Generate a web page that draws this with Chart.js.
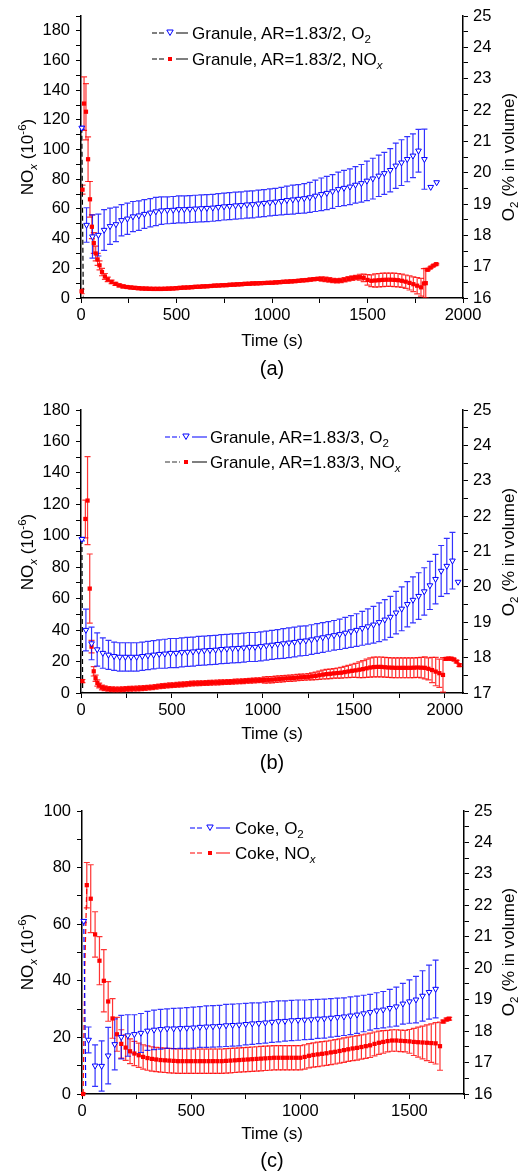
<!DOCTYPE html>
<html>
<head>
<meta charset="utf-8">
<script src="https://cdn.jsdelivr.net/npm/chart.js@4.4.1/dist/chart.umd.min.js"></script>
<style>
body{margin:0;background:#fff;width:532px;height:1175px;position:relative;overflow:hidden;font-family:"Liberation Sans",Arial,sans-serif;color:#000}
.panel{position:absolute;left:0;width:532px}
.txt{position:absolute;white-space:nowrap;font-size:17px;line-height:1;transform:translate(-50%,-50%)}
.rot{transform:translate(-50%,-50%) rotate(-90deg)}
.cap{font-size:20px}
.leg{position:absolute;white-space:nowrap;font-size:17px;line-height:1;transform:translateY(-50%);display:flex;align-items:center}
sub,sup{font-size:0.68em;line-height:0}
</style>
</head>
<body>

<div class="panel" style="top:0px"><canvas id="chartA" width="532" height="331"></canvas></div>
<div class="panel" style="top:394px"><canvas id="chartB" width="532" height="332"></canvas></div>
<div class="panel" style="top:795px"><canvas id="chartC" width="532" height="332"></canvas></div>

<!-- axis titles and captions -->
<div class="txt rot" style="left:27px;top:157px">NO<sub><i>x</i></sub> (10<sup>-6</sup>)</div>
<div class="txt rot" style="left:508px;top:157px">O<sub>2</sub> (% in volume)</div>
<div class="txt" style="left:272px;top:340px">Time (s)</div>
<div class="txt cap" style="left:272px;top:368px">(a)</div>

<div class="txt rot" style="left:27px;top:552px">NO<sub><i>x</i></sub> (10<sup>-6</sup>)</div>
<div class="txt rot" style="left:508px;top:552px">O<sub>2</sub> (% in volume)</div>
<div class="txt" style="left:272px;top:733px">Time (s)</div>
<div class="txt cap" style="left:272px;top:762px">(b)</div>

<div class="txt rot" style="left:27px;top:952px">NO<sub><i>x</i></sub> (10<sup>-6</sup>)</div>
<div class="txt rot" style="left:508px;top:952px">O<sub>2</sub> (% in volume)</div>
<div class="txt" style="left:272px;top:1133px">Time (s)</div>
<div class="txt cap" style="left:272px;top:1160px">(c)</div>

<script>
// rows are [time (s), value, error]

// (a) Granule, AR=1.83/2
const o2A = [[4,21.43,0.05],[29,18.33,0.55],[60,17.96,0.69],[91,18.01,0.67],[121,18.17,0.65],[152,18.29,0.58],[183,18.35,0.55],[212,18.48,0.50],[243,18.53,0.50],[272,18.60,0.48],[303,18.63,0.47],[332,18.68,0.46],[363,18.72,0.45],[392,18.76,0.45],[421,18.79,0.44],[452,18.80,0.43],[483,18.81,0.43],[512,18.83,0.43],[541,18.83,0.43],[570,18.84,0.43],[599,18.85,0.43],[630,18.86,0.43],[659,18.87,0.43],[690,18.88,0.43],[719,18.90,0.43],[749,18.92,0.43],[778,18.93,0.43],[809,18.95,0.43],[838,18.96,0.43],[869,18.98,0.43],[898,18.99,0.43],[929,19.01,0.43],[958,19.03,0.43],[989,19.05,0.43],[1018,19.07,0.43],[1049,19.09,0.44],[1078,19.12,0.45],[1109,19.14,0.46],[1138,19.16,0.46],[1169,19.18,0.47],[1198,19.21,0.48],[1227,19.26,0.50],[1258,19.31,0.52],[1287,19.35,0.53],[1317,19.40,0.54],[1347,19.47,0.55],[1377,19.51,0.56],[1408,19.55,0.57],[1437,19.61,0.58],[1468,19.66,0.60],[1497,19.74,0.63],[1528,19.81,0.65],[1559,19.90,0.66],[1588,19.98,0.67],[1619,20.08,0.69],[1648,20.22,0.72],[1678,20.32,0.73],[1708,20.43,0.72],[1738,20.54,0.70],[1767,20.70,0.68],[1798,20.43,0.96],[1831,19.54,0],[1862,19.69,0]];

const noxA = [[3,4.5,1.5],[8,73,3],[16,131,18],[26,125.5,19],[37,93.5,15],[47,66.5,12],[57,48,8],[67,37,7],[77,30,5],[87,26,4],[97,22,3],[110,17.5,2.5],[125,14.5,2],[140,12.5,1.5],[160,10.8,1.2],[180,9.5,1],[200,8.5,1],[220,7.8,1],[240,7.4,1],[260,7.1,1],[280,6.8,1],[300,6.6,1],[320,6.4,1],[340,6.3,1],[360,6.2,1],[380,6.1,1],[400,6.1,1],[420,6.1,1],[440,6.2,1],[460,6.3,1],[480,6.4,1],[500,6.6,1],[520,6.8,1],[540,7.0,1],[560,7.1,1],[580,7.3,1],[600,7.5,1],[620,7.6,1],[640,7.8,1],[660,7.9,1],[680,8.1,1],[700,8.3,1],[720,8.4,1],[740,8.6,1],[760,8.7,1],[780,8.9,1],[800,9.0,1],[820,9.2,1],[840,9.3,1],[860,9.5,1],[880,9.6,1],[900,9.8,1],[920,9.9,1],[940,10.0,1],[960,10.1,1],[980,10.2,1],[1000,10.3,1],[1020,10.5,1],[1040,10.7,1],[1060,10.9,1],[1080,11.0,1],[1100,11.2,1],[1120,11.4,1],[1140,11.6,1],[1160,11.9,1],[1180,12.1,1],[1200,12.4,1],[1220,12.7,1],[1240,12.9,1],[1260,12.8,1.5],[1280,12.5,1.5],[1300,12.2,1.5],[1320,11.8,1.5],[1340,11.6,1.5],[1360,11.8,1.5],[1380,12.3,1.5],[1400,12.9,1.5],[1420,13.4,1.5],[1440,13.8,1.5],[1460,14.0,2],[1480,13.6,2.5],[1500,12.2,3.5],[1520,11.6,4],[1540,11.8,4.5],[1560,12.0,4.5],[1580,12.2,4.5],[1600,12.3,4.5],[1620,12.3,4.5],[1640,12.2,4.5],[1660,12.0,4.5],[1680,11.6,4.5],[1700,11.0,4.5],[1720,10.2,4.8],[1740,9.3,5],[1760,8.3,5.5],[1780,7.2,6],[1795,9.8,10],[1805,10.0,10],[1815,19.0,0.5],[1830,20.5,0.5],[1845,21.8,0.5],[1860,22.8,0.5]];

const dashA = [[4,21.43],[12,16.05]];

// (b) Granule, AR=1.83/3
const o2B = [[5,21.35,0.05],[27,18.78,0.59],[58,18.40,0.46],[89,18.23,0.47],[120,18.13,0.43],[151,18.08,0.41],[182,18.04,0.40],[213,18.02,0.40],[244,18.02,0.40],[275,18.02,0.40],[306,18.02,0.40],[337,18.04,0.40],[368,18.06,0.40],[399,18.08,0.40],[430,18.10,0.40],[461,18.11,0.41],[492,18.13,0.41],[523,18.13,0.41],[554,18.15,0.41],[585,18.16,0.41],[616,18.17,0.41],[647,18.19,0.41],[678,18.20,0.41],[709,18.21,0.41],[740,18.22,0.41],[771,18.24,0.41],[802,18.25,0.41],[833,18.26,0.41],[864,18.27,0.41],[895,18.28,0.41],[926,18.30,0.41],[957,18.30,0.41],[988,18.32,0.41],[1019,18.34,0.41],[1050,18.36,0.41],[1081,18.38,0.41],[1112,18.40,0.42],[1143,18.42,0.42],[1174,18.44,0.42],[1205,18.47,0.42],[1236,18.48,0.42],[1267,18.51,0.42],[1298,18.54,0.42],[1329,18.57,0.42],[1360,18.60,0.42],[1391,18.63,0.42],[1422,18.66,0.43],[1453,18.70,0.44],[1484,18.74,0.45],[1515,18.78,0.46],[1546,18.83,0.48],[1577,18.88,0.50],[1608,18.93,0.52],[1639,19.00,0.55],[1670,19.07,0.57],[1701,19.15,0.58],[1732,19.27,0.60],[1763,19.38,0.62],[1794,19.51,0.64],[1825,19.63,0.65],[1856,19.74,0.66],[1887,19.87,0.67],[1918,20.04,0.68],[1949,20.22,0.70],[1980,20.45,0.72],[2011,20.59,0.78],[2042,20.74,0.80],[2073,20.14,0]];

const noxB = [[8,7.6,1],[24,110.7,12],[36,122.4,28],[48,66.4,22],[58,29.5,4],[70,13.8,3],[80,9.4,2],[90,6.4,2],[100,4.8,1.5],[115,3.5,1.5],[130,3.0,1.5],[150,2.6,1.5],[170,2.4,1.5],[190,2.3,1.5],[210,2.3,1.5],[230,2.4,1.5],[250,2.6,1.5],[270,2.7,1.5],[290,2.8,1.5],[310,2.9,1.5],[330,3.0,1.5],[350,3.2,1.5],[370,3.4,1.5],[390,3.6,1.5],[410,3.9,1.5],[430,4.2,1.5],[450,4.5,1.5],[470,4.7,1.5],[490,4.9,1.5],[510,5.0,1.5],[530,5.2,1.5],[550,5.4,1.5],[570,5.6,1.5],[590,5.8,1.5],[610,6.0,1.5],[630,6.1,1.5],[650,6.2,1.5],[670,6.3,1.5],[690,6.4,1.5],[710,6.5,1.5],[730,6.6,1.5],[750,6.7,1.5],[770,6.8,1.5],[790,6.9,1.5],[810,7.0,1.5],[830,7.1,1.5],[850,7.3,1.5],[870,7.4,1.5],[890,7.5,1.5],[910,7.7,1.5],[930,7.8,1.5],[950,8.0,1.5],[970,8.1,1.5],[990,8.2,1.5],[1010,8.3,2],[1030,8.4,2],[1050,8.5,2],[1070,8.7,2],[1090,8.9,2],[1110,9.1,2],[1130,9.3,2],[1150,9.4,2],[1170,9.6,2],[1190,9.8,2],[1210,10.0,2],[1230,10.1,2],[1250,10.3,2],[1270,10.6,2.2],[1290,10.9,2.4],[1310,11.3,2.6],[1330,11.7,2.8],[1350,12.0,3],[1370,12.2,3],[1390,12.5,3],[1410,12.7,3.2],[1430,12.9,3.4],[1450,13.3,3.6],[1470,13.7,3.9],[1490,14.1,4.2],[1510,14.4,4.5],[1530,14.8,5],[1550,15.2,5.4],[1570,15.7,5.8],[1590,16.2,6.1],[1610,16.5,6.3],[1630,16.6,6.3],[1650,16.6,6.3],[1670,16.4,6.3],[1690,16.2,6.3],[1710,16.1,6.3],[1730,16.0,6.3],[1750,16.0,6.3],[1770,16.0,6.3],[1790,16.0,6.3],[1810,16.0,6.3],[1830,16.1,6.3],[1850,16.2,6.3],[1870,16.1,6.5],[1890,16.0,7],[1910,15.4,7],[1930,14.6,8],[1950,13.6,9],[1970,12.6,9],[1990,11.5,11],[2005,21.7,0.8],[2020,21.9,0.8],[2035,21.8,0.8],[2050,21.3,0.8],[2065,20.0,0.8],[2080,17.7,0.8]];

const dashB = [[5,21.35],[9,17.05]];

// (c) Coke
const o2C = [[8,21.5,0.05],[30,17.72,0.41],[60,16.90,0.66],[90,16.89,0.80],[120,17.22,0.90],[150,17.58,0.81],[180,17.81,0.69],[210,17.86,0.66],[240,17.90,0.62],[270,17.94,0.62],[300,18.01,0.62],[330,18.04,0.63],[360,18.06,0.63],[390,18.08,0.63],[420,18.08,0.64],[450,18.09,0.64],[480,18.10,0.65],[510,18.11,0.65],[540,18.13,0.65],[570,18.14,0.66],[600,18.15,0.66],[630,18.16,0.66],[660,18.18,0.67],[690,18.19,0.67],[720,18.20,0.67],[750,18.22,0.66],[780,18.24,0.66],[810,18.25,0.65],[840,18.27,0.65],[870,18.29,0.65],[900,18.31,0.65],[930,18.32,0.64],[960,18.34,0.64],[990,18.35,0.64],[1020,18.36,0.63],[1050,18.37,0.63],[1080,18.39,0.62],[1110,18.40,0.62],[1140,18.42,0.61],[1170,18.44,0.61],[1200,18.46,0.60],[1230,18.49,0.60],[1260,18.52,0.59],[1290,18.56,0.58],[1320,18.60,0.57],[1350,18.65,0.57],[1380,18.68,0.58],[1410,18.73,0.60],[1440,18.78,0.62],[1470,18.87,0.65],[1500,18.94,0.69],[1530,19.00,0.74],[1560,19.12,0.80],[1590,19.24,0.86],[1620,19.34,0.92]];

const noxC = [[5,0,0.3],[22,73.8,8],[40,69.0,12],[60,56.4,8],[80,47.1,8.5],[100,40.0,11],[120,32.7,7],[140,26.7,7],[160,21.1,6],[180,17.7,5],[200,16.4,4.5],[220,15.1,4.4],[240,14.3,4.3],[260,13.7,4.3],[280,13.1,4.3],[300,12.7,4.3],[320,12.4,4.3],[340,12.2,4.3],[360,12.0,4.3],[380,11.9,4.3],[400,11.8,4.3],[420,11.7,4.3],[440,11.6,4.3],[460,11.6,4.3],[480,11.6,4.3],[500,11.6,4.3],[520,11.6,4.3],[540,11.6,4.3],[560,11.6,4.3],[580,11.6,4.3],[600,11.6,4.3],[620,11.6,4.3],[640,11.6,4.3],[660,11.7,4.3],[680,11.8,4.3],[700,11.9,4.3],[720,12.0,4.3],[740,12.1,4.3],[760,12.2,4.3],[780,12.3,4.3],[800,12.4,4.3],[820,12.5,4.3],[840,12.6,4.3],[860,12.7,4.3],[880,12.8,4.3],[900,12.8,4.3],[920,12.8,4.3],[940,12.8,4.3],[960,12.8,4.3],[980,12.8,4.3],[1000,12.8,4.3],[1020,13.1,4.3],[1040,13.5,4.3],[1060,13.8,4.3],[1080,14.0,4.3],[1100,14.2,4.3],[1120,14.4,4.3],[1140,14.7,4.3],[1160,14.9,4.3],[1180,15.2,4.3],[1200,15.5,4.3],[1220,15.8,4.3],[1240,16.1,4.3],[1260,16.3,4.3],[1280,16.6,4.3],[1300,16.9,4.3],[1320,17.2,4.3],[1340,17.7,4.2],[1360,18.1,4.1],[1380,18.4,4],[1400,18.7,3.8],[1420,18.9,3.8],[1440,18.9,3.8],[1460,18.8,3.8],[1480,18.7,3.8],[1500,18.6,4.2],[1520,18.4,4.8],[1540,18.3,5.3],[1560,18.2,5.8],[1580,18.1,6.3],[1600,18.0,6.8],[1620,17.9,7.3],[1640,16.9,8.5],[1655,25.6,0.5],[1670,26.3,0.5],[1682,26.6,0.5]];

const dashC_O2 = [[8,21.5],[13,18.8],[17,16.2]];
const dashC_NOx = [[5,0],[13,45],[22,73.8]];


Chart.defaults.font.family = '"Liberation Sans", Arial, sans-serif';
Chart.defaults.font.size = 16.5;
Chart.defaults.color = '#000';

// vertical error bars with caps, drawn under the markers
const errorbars = {
  id: 'errorbars',
  beforeDatasetsDraw(chart) {
    const ctx = chart.ctx;
    const area = chart.chartArea;
    ctx.save();
    ctx.beginPath();
    ctx.rect(area.left, area.top - 2, area.right - area.left, area.bottom - area.top + 2);
    ctx.clip();
    for (let i = chart.data.datasets.length - 1; i >= 0; i--) {
      const ds = chart.data.datasets[i];
      if (!ds.errors) continue;
      const meta = chart.getDatasetMeta(i);
      const ys = chart.scales[ds.yAxisID];
      ctx.strokeStyle = ds.errColor;
      ctx.lineWidth = 1.2;
      meta.data.forEach((el, j) => {
        const e = ds.errors[j];
        if (!e) return;
        const v = ds.data[j].y;
        const top = ys.getPixelForValue(v + e);
        const bot = ys.getPixelForValue(v - e);
        ctx.beginPath();
        ctx.moveTo(el.x, top); ctx.lineTo(el.x, bot);
        ctx.moveTo(el.x - 3, top); ctx.lineTo(el.x + 3, top);
        ctx.moveTo(el.x - 3, bot); ctx.lineTo(el.x + 3, bot);
        ctx.stroke();
      });
    }
    ctx.restore();
  }
};

function pts(rows) { return rows.map(r => ({x: r[0], y: r[1]})); }
function errs(rows) { return rows.map(r => r[2] || 0); }

function dashline(rows, color, axis) {
  return {
    type: 'line', data: pts(rows), yAxisID: axis,
    showLine: true, borderColor: color, borderWidth: 1.2, borderDash: [5, 3],
    pointRadius: 0, clip: 6
  };
}

function makepanel(id, s) {
  const datasets = [
    {
      label: 'O2', data: pts(s.o2), errors: errs(s.o2), errColor: 'rgba(0,0,255,0.8)',
      yAxisID: 'y1', pointStyle: 'triangle', pointRotation: 180, pointRadius: 3.3,
      borderColor: '#0000ff', backgroundColor: '#ffffff', borderWidth: 1, clip: 6
    },
    {
      label: 'NOx', data: pts(s.nox), errors: errs(s.nox), errColor: 'rgba(255,0,0,0.8)',
      yAxisID: 'y', pointStyle: 'rect', pointRadius: 3,
      borderColor: '#ff0000', backgroundColor: '#ff0000', borderWidth: 0, clip: 6
    }
  ];
  s.dashes.forEach(d => datasets.push(d));

  const grid = { drawOnChartArea: false, color: '#000', tickLength: 5 };
  const border = { color: '#000', width: 1.5 };

  return new Chart(document.getElementById(id), {
    type: 'scatter',
    data: { datasets: datasets },
    options: {
      responsive: false,
      animation: false,
      events: [],
      layout: { padding: { top: 16, left: 0, right: 0, bottom: 0 } },
      plugins: { legend: { display: false }, tooltip: { enabled: false } },
      scales: {
        x: {
          type: 'linear', min: 0, max: s.xMax,
          afterFit: sc => { sc.height = 33; },
          ticks: { stepSize: 250, autoSkip: false, maxRotation: 0, padding: 3, includeBounds: false,
                   callback: v => v % 500 === 0 ? v : '' },
          grid: grid, border: border
        },
        y: {
          type: 'linear', position: 'left', min: 0, max: s.noxMax,
          afterFit: sc => { sc.width = s.left; },
          ticks: { stepSize: 10, autoSkip: false, padding: 6, includeBounds: false,
                   callback: v => v % 20 === 0 ? v : '' },
          grid: grid, border: border
        },
        y1: {
          type: 'linear', position: 'right', min: s.o2Min, max: 25,
          afterFit: sc => { sc.width = 532 - s.right; },
          ticks: { stepSize: 0.5, autoSkip: false, padding: 5, includeBounds: false,
                   callback: v => Number.isInteger(v) ? v : '' },
          grid: grid, border: border
        }
      }
    },
    plugins: [errorbars]
  });
}

// legend rows: dashed stub, marker, solid stub, then text
function legendrow(x, y, w, gap, marker, leftCol, rightCol, html) {
  const mid = w / 2;
  const m = marker === 'tri'
    ? '<polygon points="' + (mid - 3.2) + ',2.5 ' + (mid + 3.2) + ',2.5 ' + mid + ',8" fill="#fff" stroke="#00f" stroke-width="1"/>'
    : '<rect x="' + (mid - 2) + '" y="3.5" width="4" height="4" fill="#f00"/>';
  const div = document.createElement('div');
  div.className = 'leg';
  div.style.left = x + 'px';
  div.style.top = y + 'px';
  div.innerHTML = '<svg width="' + w + '" height="11">' +
    '<line x1="0" y1="5.5" x2="' + (mid - 6) + '" y2="5.5" stroke="' + leftCol + '" stroke-width="1.2" stroke-dasharray="5 2"/>' +
    m +
    '<line x1="' + (mid + 6) + '" y1="5.5" x2="' + w + '" y2="5.5" stroke="' + rightCol + '" stroke-width="1.2"/>' +
    '</svg><span style="margin-left:' + gap + 'px">' + html + '</span>';
  document.body.appendChild(div);
}

makepanel('chartA', { o2: o2A, nox: noxA, dashes: [dashline(dashA, '#000', 'y1')],
  xMax: 2000, noxMax: 190, o2Min: 16, left: 81, right: 463 });
makepanel('chartB', { o2: o2B, nox: noxB, dashes: [dashline(dashB, '#000', 'y1')],
  xMax: 2100, noxMax: 180, o2Min: 17, left: 81, right: 463 });
makepanel('chartC', { o2: o2C, nox: noxC,
  dashes: [dashline(dashC_O2, '#0000ff', 'y1'), dashline(dashC_NOx, '#ff0000', 'y')],
  xMax: 1750, noxMax: 100, o2Min: 16, left: 82, right: 464 });

legendrow(152, 33, 36, 4, 'tri', '#000', '#000', 'Granule, AR=1.83/2, O<sub>2</sub>');
legendrow(152, 59, 36, 4, 'sq', '#000', '#000', 'Granule, AR=1.83/2, NO<sub><i>x</i></sub>');
legendrow(165, 437, 42, 3, 'tri', '#00f', '#00f', 'Granule, AR=1.83/3, O<sub>2</sub>');
legendrow(165, 462, 42, 3, 'sq', '#333', '#000', 'Granule, AR=1.83/3, NO<sub><i>x</i></sub>');
legendrow(190, 828, 40, 5, 'tri', '#00f', '#00f', 'Coke, O<sub>2</sub>');
legendrow(190, 853, 40, 5, 'sq', '#f00', '#f00', 'Coke, NO<sub><i>x</i></sub>');
</script>
</body>
</html>
